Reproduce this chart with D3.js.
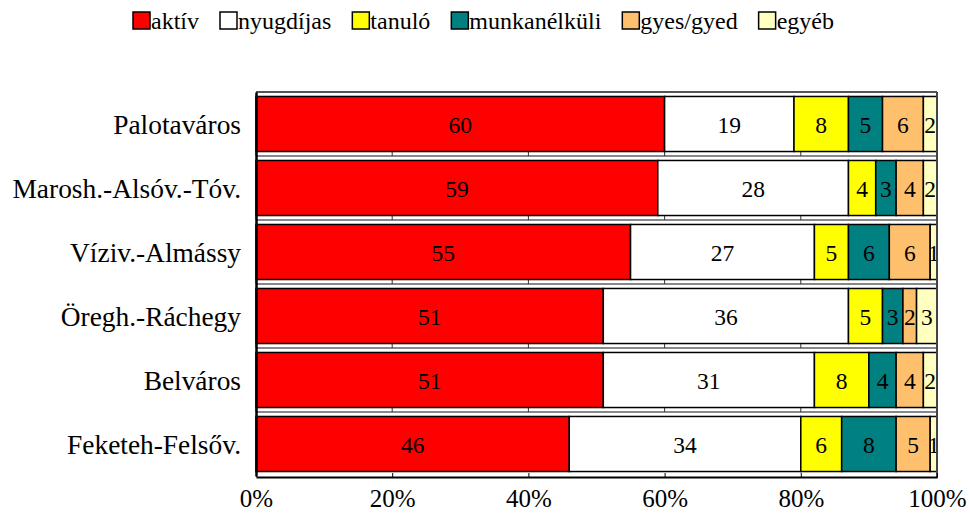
<!DOCTYPE html>
<html><head><meta charset="utf-8">
<script src="https://cdn.jsdelivr.net/npm/d3@7"></script>
<style>body{margin:0;background:#fff}svg{display:block}text{font-family:"Liberation Serif","Times New Roman",serif;fill:#000}</style>
</head><body>
<svg id="chart" width="970" height="515"></svg>
<script>
const categories = ["Palotaváros","Marosh.-Alsóv.-Tóv.","Víziv.-Almássy","Öregh.-Ráchegy","Belváros","Feketeh-Felsőv."];
const seriesNames = ["aktív","nyugdíjas","tanuló","munkanélküli","gyes/gyed","egyéb"];
const aktiv       = [60,59,55,51,51,46];
const nyugdijas   = [19,28,27,36,31,34];
const tanulo      = [8,4,5,5,8,6];
const munkanelkuli= [5,3,6,3,4,8];
const gyes        = [6,4,6,2,4,5];
const egyeb       = [2,2,1,3,2,1];
const xTicks = [0,20,40,60,80,100];
const colors = ["#FF0000","#FFFFFF","#FFFF00","#008080","#FFC06E","#FFFFC0"];

const seriesValues = [aktiv,nyugdijas,tanulo,munkanelkuli,gyes,egyeb];
const rows = categories.map((c,i)=>{const o={cat:c}; seriesNames.forEach((s,j)=>o[s]=seriesValues[j][i]); return o;});
const stack = d3.stack().keys(seriesNames)(rows);

const svg = d3.select("#chart");
const x = d3.scaleLinear().domain([0,100]).range([256,937]);
const y = d3.scaleBand().domain(categories).range([92,476]).paddingInner(0.14).paddingOuter(0.07);

// band boundary gray lines with small ticks
const bounds = d3.range(categories.length+1).map(i=>92+i*y.step());
svg.append("g").selectAll("line").data(bounds.slice(0,-1)).join("line")
  .attr("x1",x(0)).attr("x2",x(100)).attr("y1",d=>d).attr("y2",d=>d)
  .attr("stroke",d=>d===92?"#555":"#888").attr("stroke-width",2);
svg.append("g").selectAll("line").data(bounds.slice(1,-1).flatMap(b=>xTicks.map(t=>({b,t})))).join("line")
  .attr("x1",d=>x(d.t)).attr("x2",d=>x(d.t)).attr("y1",d=>d.b).attr("y2",d=>d.b-4)
  .attr("stroke","#333").attr("stroke-width",1);

// bars
const g = svg.append("g");
stack.forEach((layer,j)=>{
  g.append("g").selectAll("rect").data(layer).join("rect")
    .attr("x",d=>x(d[0])).attr("width",d=>x(d[1])-x(d[0]))
    .attr("y",d=>y(d.data.cat)).attr("height",y.bandwidth())
    .attr("fill",colors[j]).attr("stroke","#000").attr("stroke-width",1.5);
});
stack.forEach((layer,j)=>{
  g.append("g").selectAll("text").data(layer).join("text")
    .attr("x",d=>(x(d[0])+x(d[1]))/2).attr("y",d=>y(d.data.cat)+y.bandwidth()/2+1)
    .attr("text-anchor","middle").attr("dominant-baseline","central")
    .attr("font-size",23.5).text(d=>d[1]-d[0]);
});

// frame
svg.append("line").attr("x1",x(100)).attr("x2",x(100)).attr("y1",92).attr("y2",478).attr("stroke","#444").attr("stroke-width",2);
// x axis
const xAxis = d3.axisBottom(x).tickValues(xTicks).tickFormat(d=>d+"%").tickSizeInner(-4).tickSizeOuter(0).tickPadding(12);
const ax = svg.append("g").attr("transform","translate(0,477)").call(xAxis);
ax.select(".domain").attr("stroke","#000").attr("stroke-width",2);
ax.selectAll(".tick line").attr("stroke","#000");
ax.selectAll(".tick text").attr("font-size",25).attr("font-family","Liberation Serif").attr("fill","#000");
// y axis
const yAxis = d3.axisLeft(y).tickSize(0).tickPadding(15);
const ay = svg.append("g").attr("transform","translate(256,0)").call(yAxis);
ay.select(".domain").attr("stroke","#000").attr("stroke-width",2.5);
ay.selectAll(".tick text").attr("font-size",27.4).attr("font-family","Liberation Serif").attr("fill","#000").attr("dy","0.36em");

// legend
const leg = svg.append("g");
let lx = 133;
seriesNames.forEach((s,j)=>{
  leg.append("rect").attr("x",lx).attr("y",12).attr("width",17).attr("height",17)
    .attr("fill",colors[j]).attr("stroke","#000").attr("stroke-width",1.5);
  const t = leg.append("text").attr("x",lx+18).attr("y",29).attr("font-size",24).text(s);
  lx += 18 + t.node().getComputedTextLength() + 21;
});
</script>
</body></html>
